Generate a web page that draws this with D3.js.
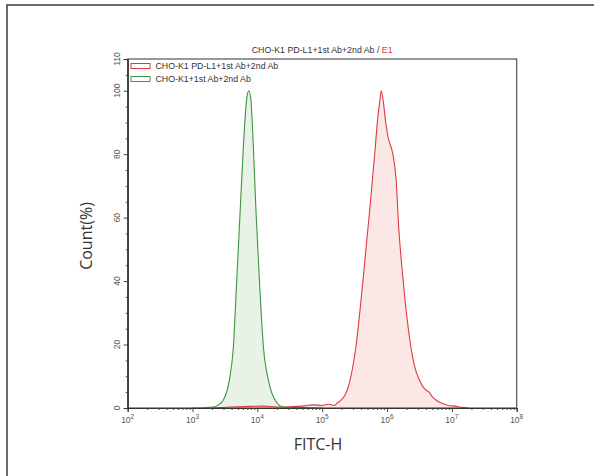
<!DOCTYPE html>
<html>
<head>
<meta charset="utf-8">
<script src="https://cdn.jsdelivr.net/npm/d3@7"></script>
<style>
  html, body { margin: 0; padding: 0; background: #fff; }
  svg { display: block; }
</style>
</head>
<body>
<svg id="chart" width="594" height="476"></svg>
<script>
// FITC-H positions are kept as decade exponents (10^e), counts in %
const redExp = [3.30, 3.60, 3.90, 4.10, 4.30, 4.50, 4.70, 4.85, 5.00, 5.10, 5.18, 5.23, 5.29, 5.35, 5.43, 5.52, 5.63, 5.74, 5.81, 5.86, 5.89, 5.91, 5.94, 5.98, 6.02, 6.05, 6.09, 6.14, 6.18, 6.25, 6.31, 6.37, 6.44, 6.50, 6.56, 6.61, 6.65, 6.70, 6.77, 6.85, 6.95, 7.05, 7.15, 7.25];
const redCount = [0, 0.3, 0.5, 0.6, 0.3, 0.4, 0.6, 1.0, 0.8, 1.2, 0.8, 1.5, 2.5, 4.0, 8.8, 19.3, 40.4, 64, 80, 92, 97, 100, 97, 90, 85, 83, 80, 72, 57, 40, 28, 19, 12, 8.8, 6.5, 5.5, 5.0, 3.5, 2.3, 1.5, 0.8, 0.6, 0.2, 0];

const greenExp = [3.00, 3.20, 3.32, 3.40, 3.475, 3.568, 3.63, 3.682, 3.733, 3.784, 3.836, 3.867, 3.898, 3.938, 3.98, 4.031, 4.093, 4.17, 4.273, 4.40, 4.55, 4.80, 5.00];
const greenCount = [0, 0.1, 0.3, 1.0, 2.5, 8.8, 19.3, 40.4, 61.4, 82.4, 97.6, 100, 97.6, 82.4, 61.4, 40.4, 19.3, 8.8, 2.5, 0.3, 0.2, 0.1, 0];

const decades = [2, 3, 4, 5, 6, 7, 8];
const yMajor = [0, 20, 40, 60, 80, 100, 110];
const seriesNames = ['CHO-K1 PD-L1+1st Ab+2nd Ab', 'CHO-K1+1st Ab+2nd Ab'];
const seriesStroke = ['#e0393e', '#3e9441'];
const seriesFill = ['#fbe3e3', '#e4f0e2'];

const svg = d3.select('#chart');
const m = { left: 127.7, right: 516.7, top: 59, bottom: 408 };

const x = d3.scaleLog().domain([1e2, 1e8]).range([m.left, m.right]);
const y = d3.scaleLinear().domain([0, 110]).range([m.bottom, m.top]);

// outer frame
svg.append('rect')
  .attr('x', 7).attr('y', 5).attr('width', 620).attr('height', 500)
  .attr('fill', 'none').attr('stroke', '#3a3a3a').attr('stroke-width', 1.5);

// histograms
const series = [
  redExp.map((e, i) => ({ v: 10 ** e, c: redCount[i] })),
  greenExp.map((e, i) => ({ v: 10 ** e, c: greenCount[i] }))
];
const area = d3.area().x(d => x(d.v)).y0(y(0)).y1(d => y(d.c)).curve(d3.curveMonotoneX);
const line = d3.line().x(d => x(d.v)).y(d => y(d.c)).curve(d3.curveMonotoneX);

// fills first, then outlines
[1, 0].forEach(i => {
  svg.append('path').datum(series[i]).attr('d', area)
    .attr('fill', seriesFill[i]).attr('fill-opacity', 0.85);
});
[0, 1].forEach(i => {
  svg.append('path').datum(series[i]).attr('d', line)
    .attr('fill', 'none').attr('stroke', seriesStroke[i]).attr('stroke-width', 1.1);
});

// plot box
svg.append('rect')
  .attr('x', m.left).attr('y', m.top)
  .attr('width', m.right - m.left).attr('height', m.bottom - m.top)
  .attr('fill', 'none').attr('stroke', '#444').attr('stroke-width', 1.1);

// x axis
const minorX = [];
decades.slice(0, -1).forEach(d => { for (let k = 2; k < 10; k++) minorX.push(k * 10 ** d); });

const xAx = svg.append('g').attr('transform', `translate(0,${m.bottom})`);
xAx.call(d3.axisBottom(x).tickValues(decades.map(d => 10 ** d)).tickSize(4).tickFormat(''));
xAx.append('g').call(d3.axisBottom(x).tickValues(minorX).tickSize(2).tickFormat(''));
xAx.selectAll('.domain').attr('stroke', '#333');
xAx.selectAll('.tick line').attr('stroke', '#444');

const xLab = svg.append('g')
  .attr('font-family', 'Liberation Sans, Arial, sans-serif')
  .attr('fill', '#555');
decades.forEach(d => {
  const t = xLab.append('text')
    .attr('x', x(10 ** d)).attr('y', m.bottom + 15)
    .attr('text-anchor', 'middle').attr('font-size', 8.5);
  t.append('tspan').text('10');
  t.append('tspan').attr('dy', -4).attr('font-size', 6.5).text(d);
});

// y axis
const minorY = d3.range(5, 110, 5).filter(v => !yMajor.includes(v));
const yAx = svg.append('g').attr('transform', `translate(${m.left},0)`);
yAx.call(d3.axisLeft(y).tickValues(yMajor).tickSize(4).tickFormat(''));
yAx.append('g').call(d3.axisLeft(y).tickValues(minorY).tickSize(2).tickFormat(''));
yAx.selectAll('.domain').attr('stroke', '#333');
yAx.selectAll('.tick line').attr('stroke', '#444');

svg.append('g').selectAll('text').data(yMajor).join('text')
  .attr('transform', d => `translate(${m.left - 8},${y(d)}) rotate(-90)`)
  .attr('text-anchor', 'middle')
  .attr('font-family', 'Liberation Sans, Arial, sans-serif')
  .attr('font-size', 8.5)
  .attr('fill', '#555')
  .text(d => d);

// title
const title = svg.append('text')
  .attr('x', (m.left + m.right) / 2).attr('y', 53)
  .attr('text-anchor', 'middle')
  .attr('font-family', 'Liberation Sans, Arial, sans-serif')
  .attr('font-size', 8.8).attr('fill', '#333');
title.append('tspan').text('CHO-K1 PD-L1+1st Ab+2nd Ab / ');
title.append('tspan').attr('fill', '#e0393e').text('E1');

// legend
seriesNames.forEach((name, i) => {
  const ly = 66 + i * 13;
  svg.append('rect')
    .attr('x', 131).attr('y', ly - 2.5).attr('width', 19).attr('height', 5)
    .attr('fill', 'none').attr('stroke', seriesStroke[i]).attr('stroke-width', 1);
  svg.append('text')
    .attr('x', 155.5).attr('y', ly + 3)
    .attr('font-family', 'Liberation Sans, Arial, sans-serif')
    .attr('font-size', 8.8).attr('fill', '#333')
    .text(name);
});

// axis titles
svg.append('text')
  .attr('x', 318).attr('y', 450)
  .attr('text-anchor', 'middle')
  .attr('font-family', 'Open Sans, Lato, sans-serif')
  .attr('font-size', 16).attr('fill', '#333')
  .text('FITC-H');

svg.append('text')
  .attr('transform', `translate(92,236) rotate(-90)`)
  .attr('text-anchor', 'middle')
  .attr('font-family', 'Open Sans, Lato, sans-serif')
  .attr('font-size', 16).attr('fill', '#333')
  .text('Count(%)');
</script>
</body>
</html>
